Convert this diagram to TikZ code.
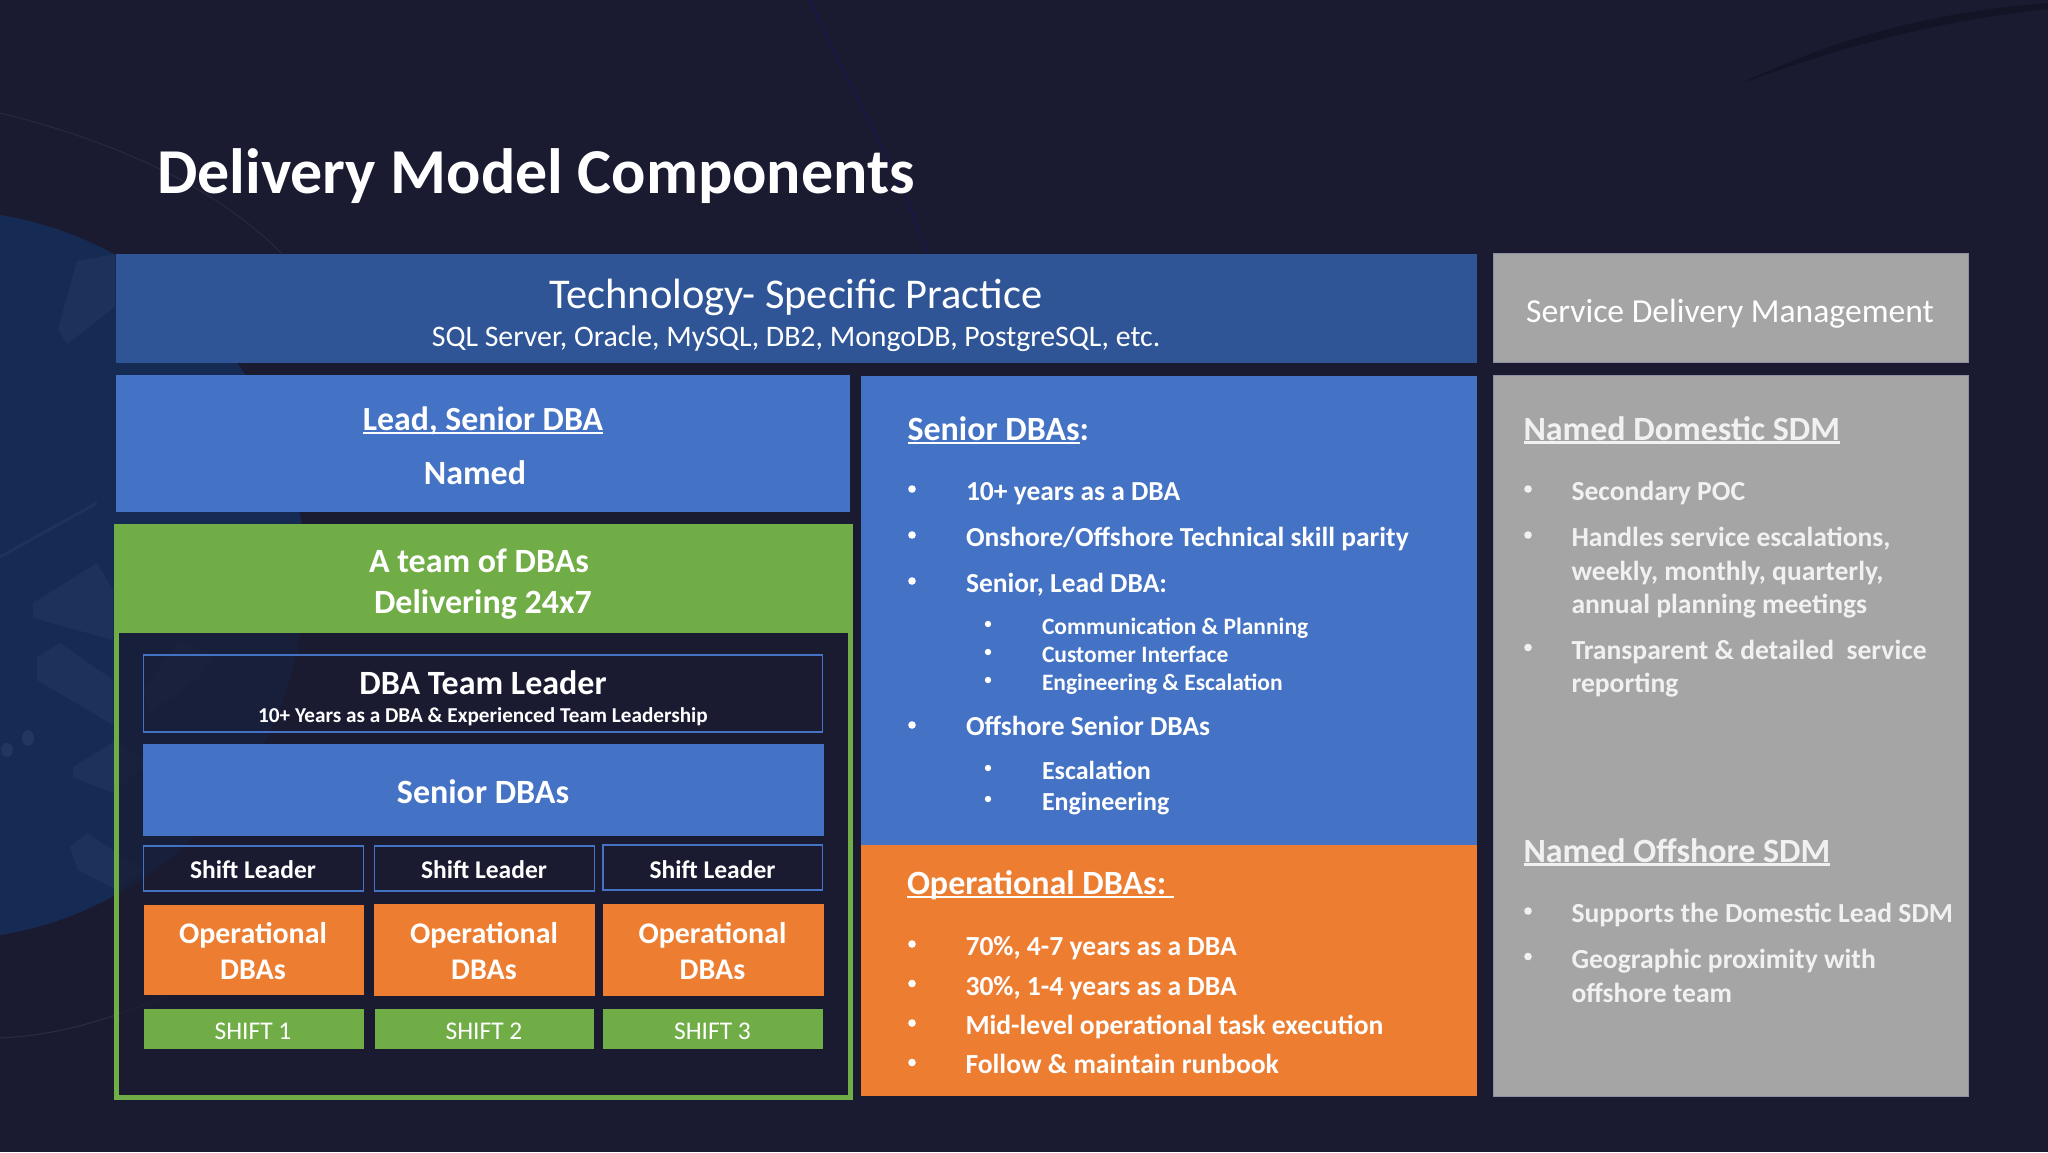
\documentclass[tikz,border=0pt]{standalone}
\usepackage{fontspec}
\setmainfont{Carlito}
\definecolor{bgc}{HTML}{1A1B31}
\definecolor{circ}{HTML}{152B54}
\definecolor{barblue}{HTML}{2F5597}
\definecolor{mblue}{HTML}{4472C4}
\definecolor{mgreen}{HTML}{70AD47}
\definecolor{morange}{HTML}{ED7D31}
\definecolor{mgray}{HTML}{A5A5A5}
\definecolor{graytxt}{HTML}{F1F1F1}
\definecolor{edgeg}{HTML}{8C90A2}
\newsavebox{\ulbox}
\newcommand{\ulx}[1]{\sbox{\ulbox}{#1}\leavevmode\rlap{\rule[-0.105em]{\wd\ulbox}{0.07em}}\usebox{\ulbox}}
\newcommand{\fs}[1]{\fontsize{#1}{#1}\selectfont}
\tikzset{
  x=1pt,y=-1pt,
  txt/.style={inner sep=0pt,outer sep=0pt,text=white,anchor=base},
  ltxt/.style={txt,anchor=base west},
  gtxt/.style={ltxt,text=graytxt},
  bul/.style={fill=white,draw=none},
  gbul/.style={fill=graytxt,draw=none},
  bluefill/.style={fill=mblue,draw=none},
  orangefill/.style={fill=morange,draw=none},
  greenfill/.style={fill=mgreen,draw=none},
  grayfill/.style={fill=mgray,draw=edgeg,line width=0.8pt},
  outline/.style={draw=mblue,line width=1.8pt,fill=none},
  faint/.style={fill=white,fill opacity=0.035,draw=none},
  hair/.style={draw=#1,line width=1pt,fill=none},
}
\begin{document}
\begin{tikzpicture}
\useasboundingbox (0,0) rectangle (2048,1152);
% background
\fill[bgc] (0,0) rectangle (2048,1152);
\begin{scope}
\clip (0,0) rectangle (2048,1152);
\fill[circ] (-60,575) circle[radius=365];
\fill[faint] (58,329) -- (77,261) -- (115,254) -- (115,307) -- (67,344) -- cycle;
\fill[faint] (33,603) -- (97,563) -- (113,590) -- (113,640) -- (33,618) -- cycle;
\fill[faint] (37,657) -- (60,643) -- (113,680) -- (113,725) -- (37,680) -- cycle;
\fill[faint] (73,767) -- (117,740) -- (147,763) -- (113,793) -- (73,777) -- cycle;
\fill[faint] (70,847) -- (87,833) -- (143,870) -- (117,890) -- (78,870) -- cycle;
\fill[faint] (180,640) -- (213,657) -- (200,677) -- (150,713) -- (143,690) -- cycle;
\draw[white,opacity=0.04,line width=3pt] (0,557) -- (97,503);
\fill[white,opacity=0.06] (7,750) ellipse[x radius=6,y radius=7];
\fill[white,opacity=0.06] (28,738) ellipse[x radius=6,y radius=8];
\draw[hair=bgc!80!blue] (810,0) .. controls (850,90) and (900,170) .. (927,253);
\draw[hair=bgc!94!white] (0,113) .. controls (70,130) and (200,170) .. (281,253);
\draw[hair=bgc!92!white] (0,1038) .. controls (60,1035) and (110,1020) .. (180,990);
\fill[bgc!75!black] (1738,85) .. controls (1830,40) and (1930,12) .. (2048,3) -- (2048,9) .. controls (1930,22) and (1830,50) .. cycle;
\end{scope}
% boxes
\fill[barblue] (116,253.5) rectangle (1477,362.5);
\fill[bluefill] (116,375) rectangle (850,511.5);
\fill[bgc,fill opacity=0.72] (116,630) rectangle (850,1097);
\path[greenfill] (113.5,523.5) rectangle (852.5,633);
\draw[mgreen,line width=5pt] (116,630) rectangle (850,1097);
\draw[outline] (143.5,655) rectangle (822.5,732);
\path[bluefill] (142.5,743.5) rectangle (823.5,836);
\draw[outline] (143.5,846) rectangle (363.5,891);
\draw[outline] (374.5,846) rectangle (594.5,891);
\draw[outline] (603,845) rectangle (822.5,890);
\path[orangefill] (143.5,904.5) rectangle (363.5,995);
\path[orangefill] (373.5,903.5) rectangle (594.5,996);
\path[orangefill] (602.5,903.5) rectangle (823.5,996);
\path[greenfill] (143.5,1008.5) rectangle (363.5,1048.5);
\path[greenfill] (374.5,1008.5) rectangle (594,1048.5);
\path[greenfill] (603,1008.5) rectangle (822.5,1048.5);
\path[bluefill] (861,376) rectangle (1477,845);
\path[orangefill] (861,845) rectangle (1477,1096);
\path[grayfill] (1493,253.5) rectangle (1968.5,362.5);
\path[grayfill] (1493,375.5) rectangle (1968.5,1096);
% title
\node[ltxt] (title) at (157,193) {\fs{64}\bfseries Delivery Model Components};
% top
\node[txt] (tech) at (796,308) {\fs{42.4}Technology- Specific Practice};
\node[txt] (techsub) at (796,346) {\fs{29.8}SQL Server, Oracle, MySQL, DB2, MongoDB, PostgreSQL, etc.};
\node[txt] (sdm) at (1730,322) {\fs{33.6}Service Delivery Management};
% left column
\node[txt] (lead) at (483,430.5) {\fs{33.8}\bfseries\ulx{Lead, Senior DBA}};
\node[txt] (named) at (475,484.5) {\fs{34}\bfseries Named};
\node[txt] (team1) at (479,572.5) {\fs{34}\bfseries A team of DBAs};
\node[txt] (team2) at (483,613.5) {\fs{34}\bfseries Delivering 24x7};
\node[txt] (tl) at (483,694) {\fs{34}\bfseries DBA Team Leader};
\node[txt] (tlsub) at (483,722) {\fs{21.2}\bfseries 10+ Years as a DBA \& Experienced Team Leadership};
\node[txt] (snr) at (483,803) {\fs{34}\bfseries Senior DBAs};
\node[txt] (sl1) at (253,878) {\fs{25.5}\bfseries Shift Leader};
\node[txt] (sl2) at (484,878) {\fs{25.5}\bfseries Shift Leader};
\node[txt] (sl3) at (712.5,878) {\fs{25.5}\bfseries Shift Leader};
\node[txt] (op1a) at (253,943.5) {\fs{30}\bfseries Operational};
\node[txt] (op1b) at (253,979.5) {\fs{30}\bfseries DBAs};
\node[txt] (op2a) at (484,943.5) {\fs{30}\bfseries Operational};
\node[txt] (op2b) at (484,979.5) {\fs{30}\bfseries DBAs};
\node[txt] (op3a) at (712.5,943.5) {\fs{30}\bfseries Operational};
\node[txt] (op3b) at (712.5,979.5) {\fs{30}\bfseries DBAs};
\node[txt] (sh1) at (253,1039) {\fs{25.5}SHIFT 1};
\node[txt] (sh2) at (484,1039) {\fs{25.5}SHIFT 2};
\node[txt] (sh3) at (712.5,1039) {\fs{25.5}SHIFT 3};
% middle panel
\node[ltxt] (mh) at (907.5,440.5) {\fs{34}\bfseries\ulx{Senior DBAs}:};
\foreach \yy in {489,535,581,725}{\fill[bul] (912,\yy) circle[radius=3.8];}
\foreach \yy in {624,652,680,768,799}{\fill[bul] (988,\yy) circle[radius=3.2];}
\node[ltxt] (m1) at (966,500.5) {\fs{27.5}\bfseries 10+ years as a DBA};
\node[ltxt] (m2) at (966,546.5) {\fs{27.5}\bfseries Onshore/Offshore Technical skill parity};
\node[ltxt] (m3) at (966,592.5) {\fs{27.5}\bfseries Senior, Lead DBA:};
\node[ltxt] (m3a) at (1042,634) {\fs{23.5}\bfseries Communication \& Planning};
\node[ltxt] (m3b) at (1042,662) {\fs{23.5}\bfseries Customer Interface};
\node[ltxt] (m3c) at (1042,690) {\fs{23.5}\bfseries Engineering \& Escalation};
\node[ltxt] (m4) at (966,735) {\fs{27.5}\bfseries Offshore Senior DBAs};
\node[ltxt] (m4a) at (1042,779) {\fs{26}\bfseries Escalation};
\node[ltxt] (m4b) at (1042,810.5) {\fs{26}\bfseries Engineering};
% orange panel
\node[ltxt] (oh) at (907,894.5) {\fs{34}\bfseries\ulx{Operational DBAs:\ }};
\foreach \yy in {944,983.5,1023,1062.5}{\fill[bul] (912,\yy) circle[radius=3.8];}
\node[ltxt] (o1) at (965.5,955.5) {\fs{27.6}\bfseries 70\%, 4-7 years as a DBA};
\node[ltxt] (o2) at (965.5,995) {\fs{27.6}\bfseries 30\%, 1-4 years as a DBA};
\node[ltxt] (o3) at (965.5,1034) {\fs{27.6}\bfseries Mid-level operational task execution};
\node[ltxt] (o4) at (965.5,1073.5) {\fs{27.6}\bfseries Follow \& maintain runbook};
% gray panel
\node[gtxt] (gh1) at (1523.5,440) {\fs{34}\bfseries\ulx{Named Domestic SDM}};
\foreach \yy in {489,535,647.5,911,956.5}{\fill[gbul] (1528,\yy) circle[radius=3.8];}
\node[gtxt] (g1) at (1571.5,500) {\fs{27.6}\bfseries Secondary POC};
\node[gtxt] (g2a) at (1571.5,546) {\fs{27.6}\bfseries Handles service escalations,};
\node[gtxt] (g2b) at (1571.5,580) {\fs{27.6}\bfseries weekly, monthly, quarterly,};
\node[gtxt] (g2c) at (1571.5,613) {\fs{27.6}\bfseries annual planning meetings};
\node[gtxt] (g3a) at (1571.5,659) {\fs{27.6}\bfseries Transparent \& detailed\ \ service};
\node[gtxt] (g3b) at (1571.5,692.5) {\fs{27.6}\bfseries reporting};
\node[gtxt] (gh2) at (1523.5,862) {\fs{34}\bfseries\ulx{Named Offshore SDM}};
\node[gtxt] (g4) at (1571.5,922.5) {\fs{27.6}\bfseries Supports the Domestic Lead SDM};
\node[gtxt] (g5a) at (1571.5,968.5) {\fs{27.6}\bfseries Geographic proximity with};
\node[gtxt] (g5b) at (1571.5,1002) {\fs{27.6}\bfseries offshore team};
\end{tikzpicture}
\end{document}
